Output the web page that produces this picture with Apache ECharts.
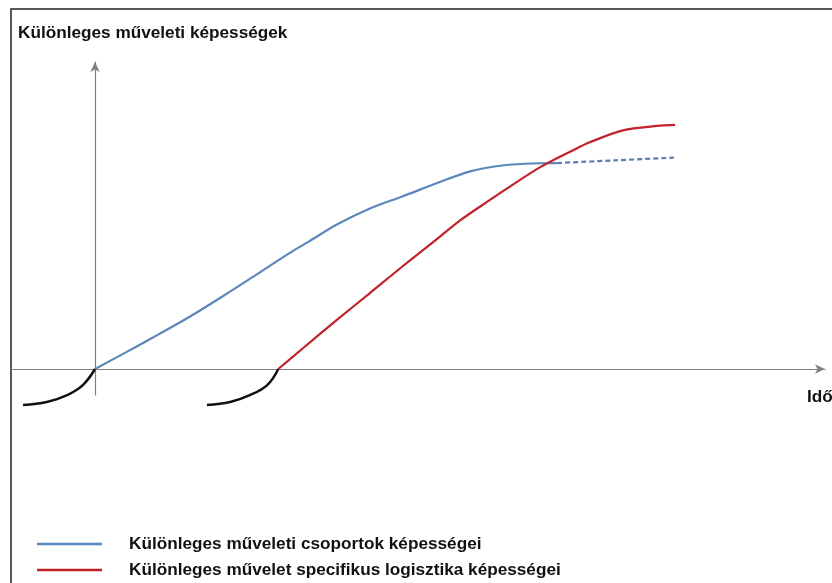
<!DOCTYPE html>
<html><head><meta charset="utf-8">
<script src="https://cdn.jsdelivr.net/npm/echarts@6/dist/echarts.min.js"></script>
<style>html,body{margin:0;padding:0;background:#fff}#c{width:832px;height:583px}</style>
</head><body><div id="c"></div>
<script>
// Time (x) and capability (y) values (arbitrary units)
const blueTime = [0, 5, 10, 16.4, 22.1, 27.9, 33.6, 37.0, 41.7, 47.4, 53.1, 59.0, 64.7, 71.0, 76.7, 79.7];
const blueCap  = [0, 6.4, 12.9, 21.5, 29.9, 38.8, 47.6, 52.4, 59.2, 65.8, 70.8, 76.2, 81.0, 83.6, 84.3, 84.4];
const blueForecastTime = [79.7, 89.7, 99.8];
const blueForecastCap  = [84.4, 85.5, 86.6];
const redTime = [31.6, 35.9, 41.7, 47.4, 53.1, 59.0, 62.9, 68.1, 71.0, 76.7, 82.4, 85.3, 91.0, 96.9, 100];
const redCap  = [0, 8.6, 20.1, 31.1, 42.2, 53.3, 60.8, 69.3, 73.9, 82.6, 89.6, 92.9, 97.8, 99.6, 100];
const preBlueTime = [-12.4, -8.3, -4.8, -2.1, 0];
const preBlueCap  = [-14.8, -13.5, -10.7, -6.6, 0];
const preRedTime = [19.3, 23.3, 26.7, 29.7, 31.6];
const preRedCap  = [-14.8, -13.5, -10.7, -6.6, 0];

const yAxisTitle = 'Különleges műveleti képességek';
const xAxisTitle = 'Idő';
const seriesNames = ['Különleges műveleti csoportok képességei', 'Különleges művelet specifikus logisztika képességei'];

const pairs = (xs, ys) => xs.map((x, i) => [x, ys[i]]);
const FONT = '"Liberation Sans", Arial, sans-serif';
const FS = 17.2;
const BLUE = '#5b87bb', RED = '#c1222a';

const chart = echarts.init(document.getElementById('c'), null, {renderer: 'canvas'});
chart.setOption({
  animation: false,
  backgroundColor: '#fff',
  title: {
    text: yAxisTitle, left: 18, top: 23, padding: 0,
    textStyle: {fontFamily: FONT, fontWeight: 'bold', fontSize: FS, lineHeight: 20, color: '#111'}
  },
  legend: {
    data: seriesNames, orient: 'vertical', left: 37, top: 534, padding: 0,
    icon: 'rect', itemWidth: 65, itemHeight: 2.4, itemGap: 6,
    textStyle: {fontFamily: FONT, fontWeight: 'bold', fontSize: FS, lineHeight: 20, color: '#111', padding: [0,0,0,22]}
  },
  grid: {left: 11, right: 7, top: 62, bottom: 188},
  xAxis: {
    type: 'value', min: -14.48, max: 125.86,
    axisLine: {onZero: true, symbol: ['none', 'arrow'], symbolSize: [7, 10], lineStyle: {color: '#7f7f7f', width: 1.2}},
    axisTick: {show: false}, axisLabel: {show: false}, splitLine: {show: false}
  },
  yAxis: {
    type: 'value', min: -10.66, max: 125.8,
    axisLine: {onZero: true, symbol: ['none', 'arrow'], symbolSize: [7, 10], lineStyle: {color: '#7f7f7f', width: 1.2}},
    axisTick: {show: false}, axisLabel: {show: false}, splitLine: {show: false}
  },
  graphic: [
    {type: 'rect', silent: true, shape: {x: 11, y: 9, width: 900, height: 700},
     style: {fill: 'none', stroke: '#222', lineWidth: 1.5}},
    {type: 'text', silent: true, x: 807, y: 397,
     style: {text: xAxisTitle, fill: '#111', font: 'bold ' + FS + 'px ' + FONT, verticalAlign: 'middle', align: 'left'}}
  ],
  series: [
    {name: seriesNames[0], type: 'line', data: pairs(blueTime, blueCap), smooth: 0.3, symbol: 'none', clip: false,
     lineStyle: {color: BLUE, width: 2.2}, itemStyle: {color: BLUE}},
    {name: 'forecast', type: 'line', data: pairs(blueForecastTime, blueForecastCap), smooth: 0.3, symbol: 'none', clip: false,
     lineStyle: {color: '#5a7ead', width: 2.2, type: [5, 3]}, itemStyle: {color: BLUE}},
    {name: seriesNames[1], type: 'line', data: pairs(redTime, redCap), smooth: 0.3, symbol: 'none', clip: false,
     lineStyle: {color: RED, width: 2.2}, itemStyle: {color: RED}},
    {name: 'pre1', type: 'line', data: pairs(preBlueTime, preBlueCap), smooth: 0.4, symbol: 'none', clip: false,
     lineStyle: {color: '#111', width: 2.5}},
    {name: 'pre2', type: 'line', data: pairs(preRedTime, preRedCap), smooth: 0.4, symbol: 'none', clip: false,
     lineStyle: {color: '#111', width: 2.5}}
  ]
});
</script></body></html>
